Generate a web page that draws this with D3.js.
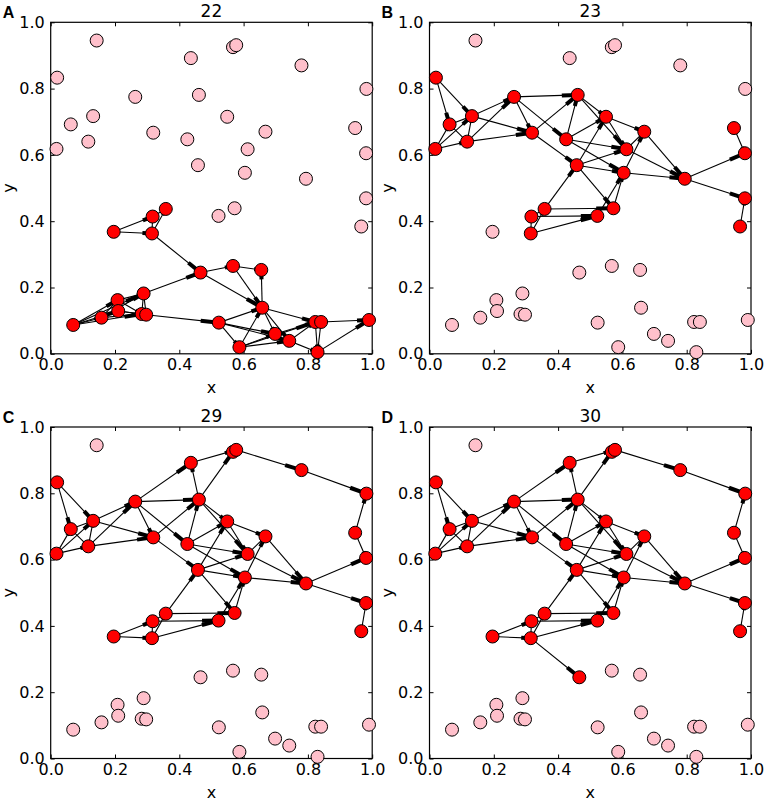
<!DOCTYPE html>
<html lang="en">
<head>
<meta charset="UTF-8">
<title>Network spreading snapshots</title>
<script src="https://d3js.org/d3.v7.min.js"></script>
<style>
    body { margin: 0; background: #fff; }
    svg text { font-family: "DejaVu Sans", sans-serif; fill: #000; }
</style>
</head>
<body>
<svg id="chart" width="765" height="800"></svg>
<script>
// node positions (same layout in every panel)
const nodeX = [0.020, 0.0625, 0.132, 0.117, 0.018, 0.263, 0.319, 0.436, 0.461, 0.425,
               0.458, 0.549, 0.6125, 0.604, 0.668, 0.780, 0.794, 0.982, 0.947, 0.981,
               0.981, 0.966, 0.143, 0.567, 0.577, 0.522, 0.572, 0.196, 0.317, 0.358,
               0.315, 0.466, 0.567, 0.655, 0.658, 0.289, 0.208, 0.210, 0.158, 0.070,
               0.283, 0.297, 0.523, 0.587, 0.698, 0.742, 0.823, 0.841, 0.830, 0.990];
const nodeY = [0.833, 0.692, 0.717, 0.640, 0.618, 0.775, 0.667, 0.892, 0.781, 0.647,
               0.569, 0.715, 0.617, 0.546, 0.670, 0.870, 0.528, 0.799, 0.681, 0.605,
               0.469, 0.384, 0.945, 0.925, 0.931, 0.416, 0.439, 0.368, 0.414, 0.437,
               0.363, 0.245, 0.265, 0.253, 0.139, 0.182, 0.162, 0.129, 0.109, 0.087,
               0.120, 0.118, 0.094, 0.020, 0.060, 0.039, 0.096, 0.096, 0.005, 0.102];

const panelLetters = ["A", "B", "C", "D"];
const panelTitles = ["22", "23", "29", "30"];
const tickValues = [0.0, 0.2, 0.4, 0.6, 0.8, 1.0];

// active (red) nodes per panel
const activeA = [27, 28, 29, 30, 31, 32, 33, 34, 35, 36, 37, 38, 39, 40, 41, 42, 43, 44, 45, 46, 47, 48, 49];
const activeB = [0, 1, 2, 3, 4, 5, 6, 8, 9, 10, 11, 12, 13, 14, 16, 18, 19, 20, 21, 25, 26, 28, 29, 30];
const activeC = [0, 1, 2, 3, 4, 5, 6, 7, 8, 9, 10, 11, 12, 13, 14, 15, 16, 17, 18, 19, 20, 21, 23, 24, 25, 26, 27, 28, 29, 30];
const activeD = [0, 1, 2, 3, 4, 5, 6, 7, 8, 9, 10, 11, 12, 13, 14, 15, 16, 17, 18, 19, 20, 21, 23, 24, 25, 26, 27, 28, 29, 30, 31];

// directed edges [source, target] per panel
const edgesA = [[27, 28], [27, 30], [28, 29], [30, 29], [30, 28], [30, 31], [35, 31], [31, 32], [32, 33],
                [31, 34], [32, 34], [34, 33], [39, 36], [39, 37], [39, 38], [39, 35], [39, 40], [38, 36],
                [38, 35], [38, 40], [36, 35], [36, 40], [37, 40], [37, 41], [35, 40], [35, 41], [41, 42],
                [42, 34], [42, 43], [42, 44], [42, 45], [43, 34], [43, 44], [43, 45], [43, 46], [34, 44],
                [34, 45], [34, 46], [44, 46], [45, 46], [45, 48], [46, 48], [47, 48], [48, 49], [47, 49]];
const edgesB = [[0, 1], [0, 2], [4, 1], [4, 2], [4, 3], [1, 2], [1, 3], [3, 2], [2, 5], [3, 5], [2, 6],
                [3, 6], [5, 6], [5, 8], [5, 9], [6, 8], [6, 10], [9, 8], [8, 11], [8, 12], [9, 11], [9, 12],
                [9, 13], [10, 11], [10, 12], [10, 13], [11, 14], [11, 12], [12, 14], [13, 14], [14, 16],
                [12, 16], [13, 16], [16, 19], [16, 20], [18, 19], [21, 20], [10, 26], [26, 13], [25, 13],
                [29, 10], [28, 25], [29, 26], [30, 25], [29, 28], [30, 28], [30, 29]];
const edgesC = edgesB.concat([[5, 7], [8, 7], [8, 23], [7, 24], [24, 15], [15, 17], [18, 17], [27, 28], [27, 30]]);
const edgesD = edgesC.concat([[30, 31]]);

const panelActive = [activeA, activeB, activeC, activeD];
const panelEdges = [edgesA, edgesB, edgesC, edgesD];

// layout
const plotW = 321.5, plotH = 331.5;
const lefts = [50.7, 429.5, 50.7, 429.5];
const tops = [22.3, 22.3, 427, 427];
const r = 6.5;

const svg = d3.select("#chart");

panelTitles.forEach(function (title, p) {
    const g = svg.append("g").attr("transform", "translate(" + lefts[p] + "," + tops[p] + ")");
    const x = d3.scaleLinear().domain([0, 1]).range([0, plotW]);
    const y = d3.scaleLinear().domain([0, 1]).range([plotH, 0]);
    const fmt = d3.format(".1f");

    // axes with inward ticks on all sides
    const axB = g.append("g").attr("transform", "translate(0," + plotH + ")")
        .call(d3.axisBottom(x).tickValues(tickValues).tickFormat(fmt).tickSizeInner(-4).tickSizeOuter(0).tickPadding(5));
    const axL = g.append("g")
        .call(d3.axisLeft(y).tickValues(tickValues).tickFormat(fmt).tickSizeInner(-4).tickSizeOuter(0).tickPadding(6));
    const axT = g.append("g")
        .call(d3.axisTop(x).tickValues(tickValues).tickFormat("").tickSizeInner(-4).tickSizeOuter(0));
    const axR = g.append("g").attr("transform", "translate(" + plotW + ",0)")
        .call(d3.axisRight(y).tickValues(tickValues).tickFormat("").tickSizeInner(-4).tickSizeOuter(0));
    [axB, axL, axT, axR].forEach(function (a) {
        a.select(".domain").remove();
        a.selectAll("line").attr("stroke", "#000").attr("stroke-width", 1);
        a.selectAll("text").style("font-size", "16px").style("font-family", "DejaVu Sans, sans-serif");
    });

    g.append("rect").attr("width", plotW).attr("height", plotH)
        .attr("fill", "none").attr("stroke", "#000").attr("stroke-width", 1.2);

    // edges: thin line + thick head segment over the last quarter
    const edges = panelEdges[p];
    g.append("g").selectAll("line").data(edges).enter().append("line")
        .attr("x1", d => x(nodeX[d[0]])).attr("y1", d => y(nodeY[d[0]]))
        .attr("x2", d => x(nodeX[d[1]])).attr("y2", d => y(nodeY[d[1]]))
        .attr("stroke", "#000").attr("stroke-width", 1.1);
    g.append("g").selectAll("line").data(edges).enter().append("line")
        .attr("x1", d => x(nodeX[d[0]] + 0.75 * (nodeX[d[1]] - nodeX[d[0]])))
        .attr("y1", d => y(nodeY[d[0]] + 0.75 * (nodeY[d[1]] - nodeY[d[0]])))
        .attr("x2", d => x(nodeX[d[1]])).attr("y2", d => y(nodeY[d[1]]))
        .attr("stroke", "#000").attr("stroke-width", 4);

    // nodes
    const active = new Set(panelActive[p]);
    g.append("g").selectAll("circle").data(nodeX).enter().append("circle")
        .attr("cx", d => x(d)).attr("cy", (d, i) => y(nodeY[i])).attr("r", r)
        .attr("fill", (d, i) => active.has(i) ? "#ff0000" : "#ffc0cb")
        .attr("stroke", "#000").attr("stroke-width", 1);

    // labels
    g.append("text").attr("x", plotW / 2).attr("y", -5).attr("text-anchor", "middle")
        .style("font-size", "17px").text(title);
    g.append("text").attr("x", plotW / 2).attr("y", plotH + 39).attr("text-anchor", "middle")
        .style("font-size", "16px").text("x");
    g.append("text").attr("transform", "translate(-37," + (plotH / 2) + ") rotate(-90)")
        .attr("text-anchor", "middle").style("font-size", "16px").text("y");
    g.append("text").attr("x", -48).attr("y", -4)
        .style("font-family", "Liberation Sans, Arial, sans-serif").style("font-weight", "bold")
        .style("font-size", "16px").text(panelLetters[p]);
});
</script>
</body>
</html>
